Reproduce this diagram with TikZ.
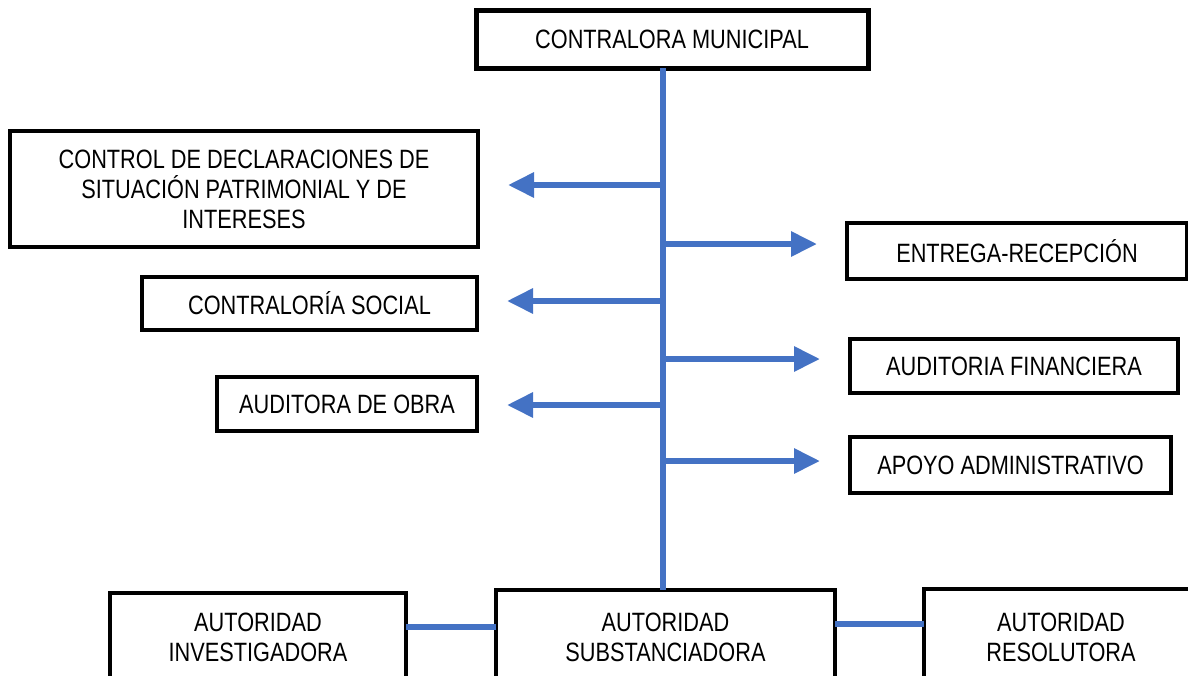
\documentclass[tikz,border=0pt]{standalone}
\usepackage{fontspec}
\setmainfont{Liberation Sans}[FakeStretch=0.82]
\usepackage{xcolor}
\usetikzlibrary{positioning}
\usetikzlibrary{arrows.meta}
\definecolor{linkblue}{RGB}{68,114,196}

\begin{document}
\begin{tikzpicture}[x=1pt, y=-1pt, node distance=89pt,
        box/.style={draw, line width=3.5pt, align=center, inner sep=0pt, outer sep=0pt,
            font=\fontsize{26.5}{30}\selectfont},
        link/.style={draw=linkblue, line width=6pt},
        arrow/.style={link, -{Triangle[length=26pt,width=24pt]}, shorten >=30pt}]
            \useasboundingbox (0,0) rectangle (1188,675);
            \clip (0,0) rectangle (1188,675);

            \node [box, line width=5pt, minimum width=392pt, minimum height=58pt] (contralora) at (672,39) {CONTRALORA MUNICIPAL};
            \node [box, minimum width=468pt, minimum height=116pt] (declaraciones) at (244,189) {CONTROL DE DECLARACIONES DE\\SITUACIÓN PATRIMONIAL Y DE\\INTERESES};
            \node [box, minimum width=335pt, minimum height=53pt] (social) at (309.5,303.5) {CONTRALORÍA SOCIAL};
            \node [box, minimum width=260pt, minimum height=54pt] (obra) at (347,404) {AUDITORA DE OBRA};
            \node [box, minimum width=340pt, minimum height=56pt] (entrega) at (1017,251) {ENTREGA-RECEPCIÓN};
            \node [box, minimum width=328pt, minimum height=54pt] (financiera) at (1014,366) {AUDITORIA FINANCIERA};
            \node [box, minimum width=321pt, minimum height=56pt] (apoyo) at (1010.5,465) {APOYO ADMINISTRATIVO};

            \node [box, minimum width=339pt, minimum height=94pt] (substanciadora) at (665.5,637) {AUTORIDAD\\SUBSTANCIADORA};
            \node [box, minimum width=296pt, minimum height=88pt, left=90pt of substanciadora] (investigadora) {AUTORIDAD\\INVESTIGADORA};
            \node [box, minimum width=274pt, minimum height=96pt, right=of substanciadora] (resolutora) {AUTORIDAD\\RESOLUTORA};

            \coordinate (trunk) at (663,0);
            \draw [link] (contralora.south -| trunk) -- (substanciadora.north -| trunk);

            \draw [arrow] (trunk |- 0,185) -- (declaraciones.east |- 0,185);
            \draw [arrow] (trunk |- 0,301) -- (social.east |- 0,301);
            \draw [arrow] (trunk |- 0,405) -- (obra.east |- 0,405);
            \draw [arrow] (trunk |- 0,244) -- (entrega.west |- 0,244);
            \draw [arrow] (trunk |- 0,359) -- (financiera.west |- 0,359);
            \draw [arrow] (trunk |- 0,461) -- (apoyo.west |- 0,461);

            \draw [link] ([yshift=10pt]investigadora.east) -- ([yshift=10pt]substanciadora.west);
            \draw [link] ([yshift=13pt]substanciadora.east) -- ([yshift=13pt]resolutora.west);
        \end{tikzpicture}
\end{document}
